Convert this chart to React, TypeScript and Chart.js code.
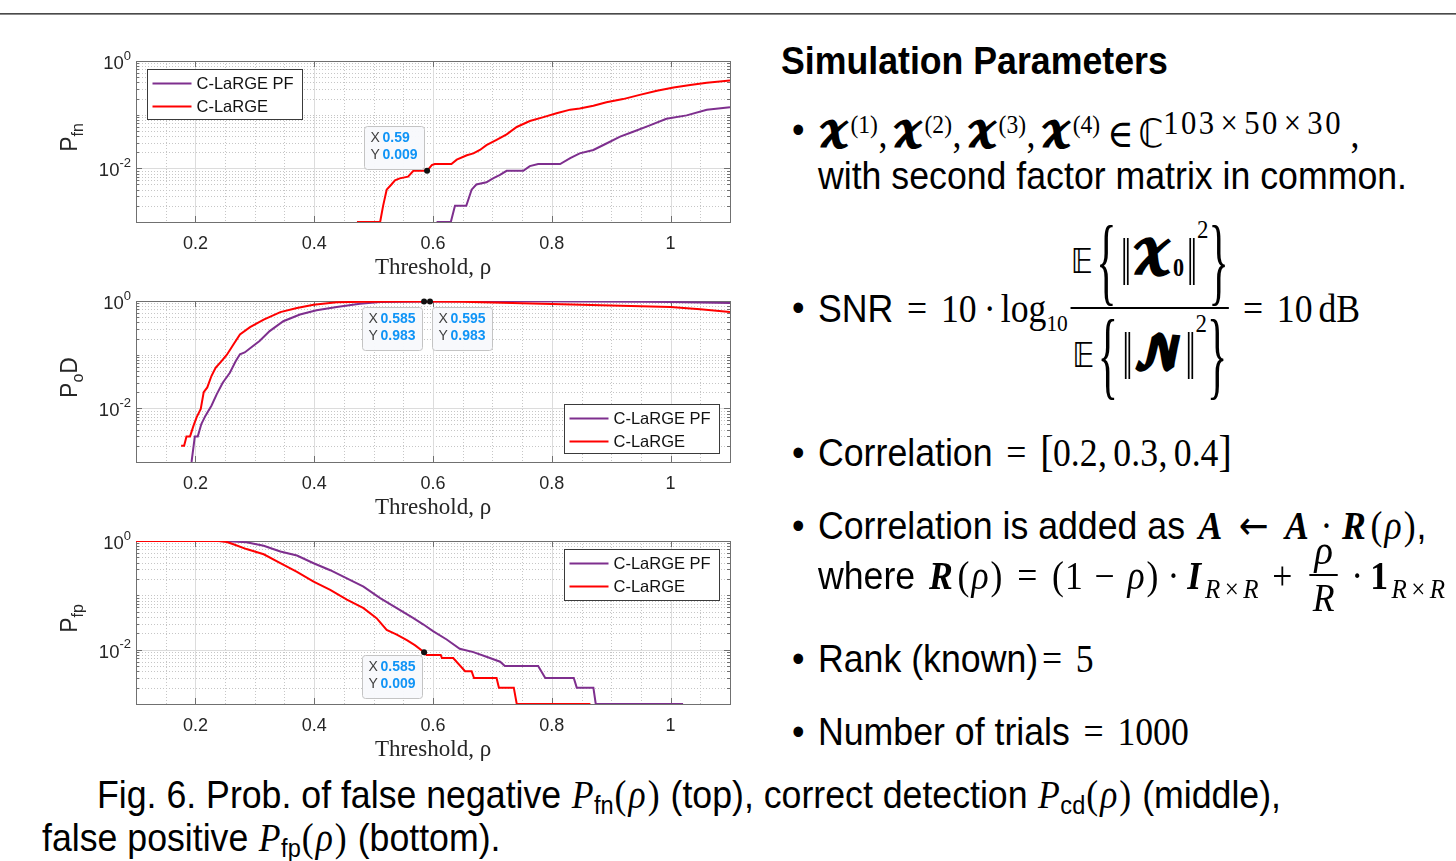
import React, { useEffect, useRef } from "react";
import { Chart, registerables } from "chart.js";
Chart.register(...registerables);

// ------------------------------------------------------------------ data
const seriesLabels = ["C-LaRGE PF", "C-LaRGE"];
const xTickVals = [0.2, 0.4, 0.6, 0.8, 1];
const xTickText = ["0.2", "0.4", "0.6", "0.8", "1"];
const yMajorExp = [0, -2];
const xMinorStep = 0.05;

// top: probability of false negative
const fnPfX = [0.606, 0.63, 0.637, 0.656, 0.665, 0.673, 0.69, 0.701, 0.712, 0.724, 0.752, 0.763, 0.777, 0.814, 0.831, 0.847, 0.87, 0.892, 0.915, 0.937, 0.965, 0.993, 1.027, 1.061, 1.1];
const fnPfY = [0.001, 0.001, 0.002, 0.002, 0.004, 0.005, 0.0055, 0.0065, 0.0075, 0.009, 0.009, 0.011, 0.012, 0.012, 0.0155, 0.019, 0.022, 0.029, 0.039, 0.048, 0.063, 0.084, 0.097, 0.123, 0.137];
const fnCX = [0.472, 0.511, 0.516, 0.522, 0.53, 0.536, 0.544, 0.558, 0.567, 0.584, 0.59, 0.598, 0.603, 0.631, 0.64, 0.657, 0.668, 0.679, 0.69, 0.707, 0.724, 0.741, 0.763, 0.786, 0.808, 0.831, 0.847, 0.87, 0.892, 0.92, 0.948, 0.977, 1.005, 1.033, 1.061, 1.1];
const fnCY = [0.001, 0.001, 0.002, 0.004, 0.005, 0.006, 0.0065, 0.007, 0.009, 0.009, 0.009, 0.0115, 0.012, 0.012, 0.0145, 0.0175, 0.019, 0.022, 0.027, 0.034, 0.043, 0.059, 0.076, 0.09, 0.106, 0.124, 0.13, 0.147, 0.17, 0.195, 0.234, 0.278, 0.32, 0.358, 0.395, 0.435];

// middle: probability of correct detection
const cdPfX = [0.1935, 0.197, 0.199, 0.204, 0.21, 0.217, 0.227, 0.236, 0.246, 0.258, 0.268, 0.275, 0.283, 0.297, 0.308, 0.325, 0.348, 0.376, 0.404, 0.438, 0.477, 0.511, 0.585, 0.65, 0.75, 0.85, 0.95, 1.0, 1.05, 1.1];
const cdPfY = [0.001, 0.002, 0.003, 0.003, 0.0051, 0.0073, 0.0112, 0.0184, 0.03, 0.046, 0.076, 0.102, 0.11, 0.145, 0.18, 0.275, 0.42, 0.56, 0.67, 0.775, 0.89, 0.955, 0.983, 0.99, 0.99, 0.98, 0.965, 0.955, 0.94, 0.92];
const cdCX = [0.176, 0.181, 0.185, 0.191, 0.197, 0.202, 0.209, 0.214, 0.22, 0.227, 0.234, 0.244, 0.253, 0.264, 0.275, 0.292, 0.315, 0.343, 0.371, 0.399, 0.438, 0.483, 0.54, 0.595, 0.65, 0.7, 0.75, 0.8, 0.85, 0.9, 0.95, 1.0, 1.05, 1.1];
const cdCY = [0.002, 0.002, 0.003, 0.003, 0.0048, 0.0068, 0.0097, 0.02, 0.0245, 0.04, 0.057, 0.076, 0.1, 0.155, 0.238, 0.325, 0.45, 0.62, 0.74, 0.855, 0.945, 0.972, 0.982, 0.983, 0.97, 0.94, 0.91, 0.88, 0.85, 0.825, 0.8, 0.775, 0.705, 0.625];

// bottom: probability of false positive
const fpPfX = [0.1, 0.236, 0.265, 0.286, 0.315, 0.343, 0.371, 0.399, 0.427, 0.455, 0.483, 0.511, 0.539, 0.567, 0.584, 0.6, 0.623, 0.645, 0.668, 0.69, 0.713, 0.721, 0.777, 0.789, 0.837, 0.842, 0.87, 0.874, 1.021];
const fpPfY = [1, 1, 0.98, 0.946, 0.82, 0.64, 0.54, 0.39, 0.29, 0.206, 0.145, 0.089, 0.058, 0.038, 0.029, 0.022, 0.0154, 0.0104, 0.009, 0.0074, 0.006, 0.005, 0.005, 0.003, 0.003, 0.002, 0.002, 0.001, 0.001];
const fpCX = [0.1, 0.24, 0.253, 0.264, 0.286, 0.315, 0.343, 0.371, 0.399, 0.427, 0.455, 0.483, 0.505, 0.522, 0.539, 0.556, 0.57, 0.585, 0.589, 0.613, 0.615, 0.634, 0.654, 0.665, 0.669, 0.707, 0.711, 0.736, 0.741, 0.865];
const fpCY = [1, 1, 0.96, 0.87, 0.71, 0.57, 0.39, 0.27, 0.179, 0.126, 0.083, 0.058, 0.038, 0.023, 0.019, 0.015, 0.012, 0.009, 0.008, 0.008, 0.007, 0.007, 0.004, 0.004, 0.003, 0.003, 0.002, 0.002, 0.001, 0.001];

// data tips (values shown in the boxes)
const fnTipX = [0.59];
const fnTipY = [0.009];
const cdTipX = [0.585, 0.595];
const cdTipY = [0.983, 0.983];
const fpTipX = [0.585];
const fpTipY = [0.009];

// ------------------------------------------------------------------ styles
const PURPLE = "#7E2F8E";
const RED = "#FF0000";
const AX = "#262626";
const BOX = "#707070";
const MAJOR_GRID = "#dcdcdc";
const MINOR_GRID = "#c6c6c6";
const SANS = "'Liberation Sans', Arial, Helvetica, sans-serif";
const SERIF = "'Liberation Serif', 'Times New Roman', 'DejaVu Serif', serif";
const CAL = "'DejaVu Math TeX Gyre', 'DejaVu Serif', 'DejaVu Sans', serif";
const DSF = "'DejaVu Sans', 'DejaVu Serif', serif";
const SQ = 0.915;

const zip = (xs: number[], ys: number[]) => xs.map((x, i) => ({ x, y: ys[i] }));

type Seg = { t: string; sub?: boolean };
type TipPlace = { side: "tl" | "bl" | "br"; gap: number };
type PanelCfg = {
  yTitle: Seg[];
  legend: { corner: "tl" | "tr" | "br"; dx: number; dy: number; w: number; h: number };
  tipX: number[];
  tipY: number[];
  tipPlace: TipPlace[];
};

function makePlugin(cfg: PanelCfg) {
  return {
    id: "matlabLook",
    beforeDatasetsDraw(chart: any) {
      const { ctx, chartArea: a, scales } = chart;
      const xs = scales.x;
      const ys = scales.y;
      const xmin = xs.min;
      const nX = Math.round((xs.max - xs.min) / xMinorStep);
      const isMajorX = (v: number) => xTickVals.some((t) => Math.abs(t - v) < 1e-6);
      const majorY = yMajorExp.map((e) => Math.pow(10, e));
      const isMajorY = (v: number) => majorY.some((t) => Math.abs(t - v) / t < 1e-6);
      const yVals: number[] = [];
      const eLo = Math.round(Math.log10(ys.min));
      const eHi = Math.round(Math.log10(ys.max));
      for (let e = eLo; e < eHi; e++) for (let m = 1; m <= 9; m++) yVals.push(m * Math.pow(10, e));
      yVals.push(Math.pow(10, eHi));
      ctx.save();
      ctx.lineWidth = 1;
      ctx.strokeStyle = MINOR_GRID;
      ctx.setLineDash([1, 2]);
      ctx.beginPath();
      for (let i = 1; i < nX; i++) {
        const v = xmin + i * xMinorStep;
        if (isMajorX(v)) continue;
        const px = Math.round(xs.getPixelForValue(v)) + 0.5;
        ctx.moveTo(px, a.top);
        ctx.lineTo(px, a.bottom);
      }
      yVals.forEach((v) => {
        if (isMajorY(v)) return;
        const py = Math.round(ys.getPixelForValue(v)) + 0.5;
        ctx.moveTo(a.left, py);
        ctx.lineTo(a.right, py);
      });
      ctx.stroke();
      ctx.setLineDash([]);
      ctx.strokeStyle = MAJOR_GRID;
      ctx.beginPath();
      xTickVals.forEach((v) => {
        const px = Math.round(xs.getPixelForValue(v)) + 0.5;
        ctx.moveTo(px, a.top);
        ctx.lineTo(px, a.bottom);
      });
      majorY.forEach((v) => {
        const py = Math.round(ys.getPixelForValue(v)) + 0.5;
        ctx.moveTo(a.left, py);
        ctx.lineTo(a.right, py);
      });
      ctx.stroke();
      ctx.strokeStyle = BOX;
      ctx.beginPath();
      xTickVals.forEach((v) => {
        const px = Math.round(xs.getPixelForValue(v)) + 0.5;
        ctx.moveTo(px, a.bottom);
        ctx.lineTo(px, a.bottom - 6);
        ctx.moveTo(px, a.top);
        ctx.lineTo(px, a.top + 6);
      });
      yVals.forEach((v) => {
        const py = Math.round(ys.getPixelForValue(v)) + 0.5;
        const len = isMajorY(v) ? 6 : 3;
        ctx.moveTo(a.left, py);
        ctx.lineTo(a.left + len, py);
        ctx.moveTo(a.right, py);
        ctx.lineTo(a.right - len, py);
      });
      ctx.stroke();
      ctx.strokeRect(Math.round(a.left) + 0.5, Math.round(a.top) + 0.5, Math.round(a.right - a.left), Math.round(a.bottom - a.top));
      ctx.restore();
    },
    afterDatasetsDraw(chart: any) {
      const { ctx, chartArea: a, scales } = chart;
      const xs = scales.x;
      const ys = scales.y;
      ctx.save();
      // y tick labels 10^e
      yMajorExp.forEach((e) => {
        const py = ys.getPixelForValue(Math.pow(10, e));
        const sup = String(e);
        ctx.font = `13px ${SANS}`;
        const sw = ctx.measureText(sup).width;
        const right = a.left - 5;
        ctx.fillStyle = AX;
        ctx.textBaseline = "middle";
        ctx.textAlign = "left";
        ctx.fillText(sup, right - sw, py - 5);
        ctx.font = `18.5px ${SANS}`;
        ctx.textAlign = "right";
        ctx.fillText("10", right - sw, py + 3);
      });
      // y title
      {
        const segs = cfg.yTitle;
        const fontOf = (s: Seg) => (s.sub ? `16px ${SANS}` : `23px ${SANS}`);
        let total = 0;
        const widths = segs.map((s) => {
          ctx.font = fontOf(s);
          const w = ctx.measureText(s.t).width;
          total += w;
          return w;
        });
        const cy = (a.top + a.bottom) / 2 - 4;
        ctx.translate(37, cy);
        ctx.rotate(-Math.PI / 2);
        ctx.textAlign = "left";
        ctx.textBaseline = "alphabetic";
        ctx.fillStyle = AX;
        let u = -total / 2;
        segs.forEach((s, i) => {
          ctx.font = fontOf(s);
          ctx.fillText(s.t, u, s.sub ? 6 : 0);
          u += widths[i];
        });
        ctx.setTransform(1, 0, 0, 1, 0, 0);
      }
      // legend
      {
        const L = cfg.legend;
        let bx = a.left + L.dx;
        let by = a.top + L.dy;
        if (L.corner === "tr" || L.corner === "br") bx = a.right - L.dx - L.w;
        if (L.corner === "br") by = a.bottom - L.dy - L.h;
        bx = Math.round(bx) + 0.5;
        by = Math.round(by) + 0.5;
        ctx.fillStyle = "#ffffff";
        ctx.fillRect(bx, by, L.w, L.h);
        ctx.strokeStyle = "#3a3a3a";
        ctx.lineWidth = 1;
        ctx.strokeRect(bx, by, L.w, L.h);
        chart.data.datasets.forEach((ds: any, i: number) => {
          const ry = by + 14 + i * 23;
          ctx.strokeStyle = ds.borderColor;
          ctx.lineWidth = 2;
          ctx.beginPath();
          ctx.moveTo(bx + 5, ry);
          ctx.lineTo(bx + 44, ry);
          ctx.stroke();
          ctx.fillStyle = "#111";
          ctx.font = `16.5px ${SANS}`;
          ctx.textAlign = "left";
          ctx.textBaseline = "middle";
          ctx.fillText(ds.label, bx + 49, ry + 1);
        });
      }
      // data tips
      cfg.tipX.forEach((tx, i) => {
        const ty = cfg.tipY[i];
        const px = xs.getPixelForValue(tx);
        const py = ys.getPixelForValue(ty);
        const pl = cfg.tipPlace[i];
        const W = 60;
        const H = 43;
        let bx = px - pl.gap - W;
        let by = py + pl.gap;
        if (pl.side === "tl") by = py - 2 - H;
        if (pl.side === "br") bx = px + 2;
        if (pl.side === "bl") bx = px - 2 - W;
        bx = Math.round(bx) + 0.5;
        by = Math.round(by) + 0.5;
        ctx.fillStyle = "rgba(248,249,252,0.96)";
        ctx.strokeStyle = "#c4c4c4";
        ctx.lineWidth = 1;
        ctx.beginPath();
        if ((ctx as any).roundRect) (ctx as any).roundRect(bx, by, W, H, 3);
        else ctx.rect(bx, by, W, H);
        ctx.fill();
        ctx.stroke();
        const rows = [["X", String(tx)], ["Y", String(ty)]];
        rows.forEach((r, k) => {
          const yy = by + 11.5 + k * 17;
          ctx.textBaseline = "middle";
          ctx.textAlign = "left";
          ctx.font = `14px ${SANS}`;
          ctx.fillStyle = "#404040";
          ctx.fillText(r[0], bx + 6, yy);
          ctx.font = `bold 14px ${SANS}`;
          ctx.fillStyle = "#1094f6";
          ctx.fillText(r[1], bx + 18, yy);
        });
        ctx.fillStyle = "#111";
        ctx.beginPath();
        ctx.arc(px, py, 3, 0, Math.PI * 2);
        ctx.fill();
      });
      ctx.restore();
    },
  };
}

type PanelProps = {
  top: number;
  height: number;
  pfX: number[];
  pfY: number[];
  cX: number[];
  cY: number[];
  cfg: PanelCfg;
};

function Panel({ top, height, pfX, pfY, cX, cY, cfg }: PanelProps) {
  const ref = useRef<HTMLCanvasElement>(null);
  useEffect(() => {
    if (!ref.current) return;
    const chart = new Chart(ref.current, {
      type: "line",
      data: {
        datasets: [
          { label: seriesLabels[0], data: zip(pfX, pfY), borderColor: PURPLE, backgroundColor: PURPLE, borderWidth: 2, pointRadius: 0, tension: 0, order: 1 },
          { label: seriesLabels[1], data: zip(cX, cY), borderColor: RED, backgroundColor: RED, borderWidth: 2, pointRadius: 0, tension: 0, order: 0 },
        ],
      },
      options: {
        animation: false,
        responsive: false,
        events: [],
        layout: { padding: { top: 16, right: 10, left: 0, bottom: 0 } },
        plugins: { legend: { display: false }, tooltip: { enabled: false } },
        scales: {
          x: {
            type: "linear",
            min: 0.1,
            max: 1.1,
            grid: { display: false, drawTicks: false },
            border: { display: false },
            afterBuildTicks: (s: any) => {
              s.ticks = xTickVals.map((v) => ({ value: v }));
            },
            afterFit: (s: any) => {
              s.height = 63;
            },
            ticks: {
              autoSkip: false,
              maxRotation: 0,
              padding: 11,
              color: AX,
              font: { family: SANS, size: 18 },
              callback: (_v: any, i: number) => xTickText[i],
            },
            title: {
              display: true,
              text: "Threshold, ρ",
              color: AX,
              font: { family: SERIF, size: 23 },
              padding: { top: 0, bottom: 3 },
            },
          },
          y: {
            type: "logarithmic",
            min: 0.001,
            max: 1,
            grid: { display: false, drawTicks: false },
            border: { display: false },
            ticks: { display: false },
            afterFit: (s: any) => {
              s.width = 96;
            },
          },
        },
      },
      plugins: [makePlugin(cfg) as any],
    });
    return () => chart.destroy();
  }, []);
  return <canvas ref={ref} width={700} height={height} style={{ position: "absolute", left: 40, top, width: 700, height }} />;
}

// ------------------------------------------------------------------ text helpers (TeX-like spacing)
const lineStyle = (left: number, baseline: number): React.CSSProperties => ({
  position: "absolute",
  left,
  top: baseline - 33,
  fontFamily: SANS,
  fontSize: 39,
  lineHeight: "39px",
  whiteSpace: "nowrap",
  transform: `scaleX(${SQ})`,
  transformOrigin: "0 0",
  color: "#000",
});
type GP = { w: number; children: any; ml?: number; mr?: number; style?: React.CSSProperties };
const G = ({ w, children, ml = 0, mr = 0, style }: GP) => (
  <span
    style={{
      display: "inline-block",
      width: `${w}em`,
      marginLeft: `${ml}em`,
      marginRight: `${mr}em`,
      textAlign: "center",
      fontFamily: SERIF,
      ...style,
    }}
  >
    {children}
  </span>
);
const Rel = ({ c, first, w = 0.778, font, sp = 0.278 }: { c: string; first?: boolean; w?: number; font?: string; sp?: number }) => (
  <G w={w} ml={first ? 0 : sp} mr={sp} style={font ? { fontFamily: font } : undefined}>
    {c}
  </G>
);
const Bin = ({ c, w = 0.778, sp = 0.222 }: { c: string; w?: number; sp?: number }) => (
  <G w={w} ml={sp} mr={sp}>
    {c}
  </G>
);
const M = ({ children, style }: { children: any; style?: React.CSSProperties }) => (
  <span style={{ fontFamily: SERIF, ...style }}>{children}</span>
);
const Rho = () => (
  <G w={0.54} style={{ fontStyle: "italic" }}>
    ρ
  </G>
);
const Pa = ({ c }: { c: string }) => <G w={0.389}>{c}</G>;
const BI = ({ c, w }: { c: string; w: number }) => (
  <G w={w} style={{ fontStyle: "italic", fontWeight: 700 }}>
    {c}
  </G>
);
const Cal = ({ children, size }: { children: any; size?: number }) => (
  <span style={{ fontFamily: CAL, fontWeight: 700, fontSize: size }}>{children}</span>
);
const Sup = ({ children, size = 0.7, raise = 0.6, font = SERIF, style }: { children: any; size?: number; raise?: number; font?: string; style?: React.CSSProperties }) => (
  <span style={{ fontSize: `${size}em`, position: "relative", top: `-${raise}em`, lineHeight: 0, fontFamily: font, ...style }}>{children}</span>
);
const Sub = ({ children, size = 0.7, drop = 0.3, font = SERIF, style }: { children: any; size?: number; drop?: number; font?: string; style?: React.CSSProperties }) => (
  <span style={{ fontSize: `${size}em`, position: "relative", top: `${drop}em`, lineHeight: 0, fontFamily: font, ...style }}>{children}</span>
);
const Bullet = ({ baseline }: { baseline: number }) => <div style={lineStyle(792, baseline)}>•</div>;
const Stretch = ({ ch, sy, size = 39, style }: { ch: string; sy: number; size?: number; style?: React.CSSProperties }) => (
  <span style={{ display: "inline-block", fontFamily: SERIF, fontSize: size, transform: `scaleY(${sy})`, lineHeight: `${size}px`, ...style }}>{ch}</span>
);
const RxR = () => (
  <Sub size={0.7} drop={0.32}>
    <G w={0.76} style={{ fontStyle: "italic" }}>
      R
    </G>
    <G w={0.778}>×</G>
    <G w={0.76} style={{ fontStyle: "italic" }}>
      R
    </G>
  </Sub>
);

function Norm({ inner, sub }: { inner: string; sub?: string }) {
  return (
    <>
      <span style={{ fontFamily: DSF, fontSize: 33, marginRight: 4 }}>𝔼</span>
      <Stretch ch="{" sy={2.12} size={46} />
      <Stretch ch="‖" sy={1.75} style={{ marginLeft: 5 }} />
      <Cal size={44}>{inner}</Cal>
      {sub ? (
        <Sub size={0.62} drop={0.3} style={{ fontWeight: 700 }}>
          {sub}
        </Sub>
      ) : null}
      <Stretch ch="‖" sy={1.75} style={{ marginLeft: 3 }} />
      <span style={{ fontSize: 25, position: "relative", top: -32, fontFamily: SERIF }}>2</span>
      <Stretch ch="}" sy={2.12} size={46} />
    </>
  );
}

function Frac() {
  const row: React.CSSProperties = { display: "flex", alignItems: "center", fontFamily: SERIF, height: 92 };
  return (
    <span style={{ display: "inline-flex", flexDirection: "column", alignItems: "stretch", margin: "0 0.02em 0 0.08em" }}>
      <span style={{ ...row, justifyContent: "center" }}>
        <Norm inner="𝓧" sub="0" />
      </span>
      <span style={{ height: 2, background: "#000" }} />
      <span style={{ ...row, justifyContent: "center" }}>
        <Norm inner="𝓝" />
      </span>
    </span>
  );
}

function RightText() {
  const X = (n: string, last?: boolean) => (
    <>
      <Cal size={34}>𝓧</Cal>
      <Sup size={0.66} raise={0.55}>
        ({n})
      </Sup>
      {last ? null : (
        <G w={0.278} mr={0.12}>
          ,
        </G>
      )}
    </>
  );
  return (
    <>
      <div style={{ ...lineStyle(781, 74), fontWeight: 700 }}>Simulation Parameters</div>

      <Bullet baseline={143} />
      <div style={lineStyle(818, 147)}>
        {X("1")}
        {X("2")}
        {X("3")}
        {X("4", true)}
        <Rel c="∈" w={0.667} sp={0.2} />
        <span style={{ fontFamily: DSF }}>ℂ</span>
        <Sup size={0.86} raise={0.4} style={{ letterSpacing: "0.08em" }}>
          103<G w={0.9}>×</G>50<G w={0.9}>×</G>30
        </Sup>
        <G w={0.278} ml={0.2}>,</G>
      </div>
      <div style={lineStyle(818, 189)}>with second factor matrix in common.</div>

      <Bullet baseline={321} />
      <div
        style={{
          position: "absolute",
          left: 818,
          top: 308,
          display: "flex",
          alignItems: "center",
          fontFamily: SANS,
          fontSize: 39,
          lineHeight: "39px",
          whiteSpace: "nowrap",
          transform: `translateY(-50%) scaleX(${SQ})`,
          transformOrigin: "0 50%",
        }}
      >
        <span>SNR&nbsp;</span>
        <span style={{ fontFamily: SERIF }}>
          <Rel c="=" first />
          10
          <Bin c="·" w={0.278} sp={0.2} />
          log
          <Sub size={0.6} drop={0.4}>
            10
          </Sub>
        </span>
        <Frac />
        <span style={{ fontFamily: SERIF }}>
          <Rel c="=" />
          10
          <G w={0.167}> </G>
          dB
        </span>
      </div>

      <Bullet baseline={466} />
      <div style={lineStyle(818, 466)}>
        Correlation{" "}
        <M>
          <Rel c="=" first />
          <G w={0.32} style={{ fontSize: "1.12em", lineHeight: "30px" }}>[</G>0.2<G w={0.278}>,</G>
          <G w={0.167}> </G>0.3<G w={0.278}>,</G>
          <G w={0.167}> </G>0.4
          <G w={0.32} style={{ fontSize: "1.12em", lineHeight: "30px" }}>]</G>
        </M>
      </div>

      <Bullet baseline={539} />
      <div style={lineStyle(818, 539)}>
        Correlation is added as <BI c="A" w={0.87} />
        <Rel c="←" w={1.0} font={DSF} />
        <BI c="A" w={0.87} />
        <Bin c="·" w={0.278} />
        <BI c="R" w={0.88} />
        <Pa c="(" />
        <Rho />
        <Pa c=")" />
        ,
      </div>
      <div style={lineStyle(818, 589)}>
        where <BI c="R" w={0.88} />
        <Pa c="(" />
        <Rho />
        <Pa c=")" />
        <Rel c="=" />
        <Pa c="(" />
        <G w={0.5}>1</G>
        <Bin c="−" />
        <Rho />
        <Pa c=")" />
        <Bin c="·" w={0.278} />
        <BI c="I" w={0.5} />
        <RxR />
        <Bin c="+" />
        <span style={{ position: "relative", display: "inline-block", width: "1.1em", height: 0 }}>
          <span
            style={{
              position: "absolute",
              left: 0,
              top: -57,
              width: "1.1em",
              display: "flex",
              flexDirection: "column",
              alignItems: "center",
              fontFamily: SERIF,
              fontStyle: "italic",
            }}
          >
            <span style={{ lineHeight: "36px", fontSize: 42 }}>ρ</span>
            <span style={{ height: 6 }} />
            <span style={{ height: 2, width: "0.8em", background: "#000" }} />
            <span style={{ lineHeight: "40px", marginTop: 2 }}>R</span>
          </span>
        </span>
        <Bin c="·" w={0.278} />
        <G w={0.575} style={{ fontWeight: 700 }}>
          1
        </G>
        <RxR />
      </div>

      <Bullet baseline={672} />
      <div style={lineStyle(818, 672)}>
        Rank (known)
        <M>
          <Rel c="=" first />5
        </M>
      </div>

      <Bullet baseline={745} />
      <div style={lineStyle(818, 745)}>
        Number of trials{" "}
        <M>
          <Rel c="=" first />
          1000
        </M>
      </div>

      <div style={lineStyle(97, 808)}>
        Fig. 6. Prob. of false negative <G w={0.642} style={{ fontStyle: "italic" }}>P</G>
        <Sub size={0.66} drop={0.25} font={SANS}>fn</Sub>
        <Pa c="(" />
        <Rho />
        <Pa c=")" /> (top), correct detection <G w={0.642} style={{ fontStyle: "italic" }}>P</G>
        <Sub size={0.66} drop={0.25} font={SANS}>cd</Sub>
        <Pa c="(" />
        <Rho />
        <Pa c=")" /> (middle),
      </div>
      <div style={lineStyle(42, 851)}>
        false positive <G w={0.642} style={{ fontStyle: "italic" }}>P</G>
        <Sub size={0.66} drop={0.25} font={SANS}>fp</Sub>
        <Pa c="(" />
        <Rho />
        <Pa c=")" /> (bottom).
      </div>
    </>
  );
}

export default function App() {
  const fnCfg: PanelCfg = {
    yTitle: [{ t: "P" }, { t: "fn", sub: true }],
    legend: { corner: "tl", dx: 11, dy: 8, w: 155, h: 50 },
    tipX: fnTipX,
    tipY: fnTipY,
    tipPlace: [{ side: "tl", gap: 3 }],
  };
  const cdCfg: PanelCfg = {
    yTitle: [{ t: "P" }, { t: "o", sub: true }, { t: "D" }],
    legend: { corner: "br", dx: 11, dy: 9, w: 155, h: 49 },
    tipX: cdTipX,
    tipY: cdTipY,
    tipPlace: [
      { side: "bl", gap: 6 },
      { side: "br", gap: 6 },
    ],
  };
  const fpCfg: PanelCfg = {
    yTitle: [{ t: "P" }, { t: "fp", sub: true }],
    legend: { corner: "tr", dx: 11, dy: 8, w: 155, h: 51 },
    tipX: fpTipX,
    tipY: fpTipY,
    tipPlace: [{ side: "bl", gap: 3 }],
  };
  return (
    <div style={{ position: "fixed", left: 0, top: 0, width: 1456, height: 861, overflow: "hidden", background: "#fff" }}>
      <div style={{ position: "absolute", left: 0, top: 13, width: 1456, height: 1, background: "#4a4a4a" }} />
      <div style={{ position: "absolute", left: 0, top: 14, width: 1456, height: 1, background: "#8a8a8a" }} />
      <Panel top={45} height={240} pfX={fnPfX} pfY={fnPfY} cX={fnCX} cY={fnCY} cfg={fnCfg} />
      <Panel top={285} height={240} pfX={cdPfX} pfY={cdPfY} cX={cdCX} cY={cdCY} cfg={cdCfg} />
      <Panel top={525} height={242} pfX={fpPfX} pfY={fpPfY} cX={fpCX} cY={fpCY} cfg={fpCfg} />
      <RightText />
    </div>
  );
}
